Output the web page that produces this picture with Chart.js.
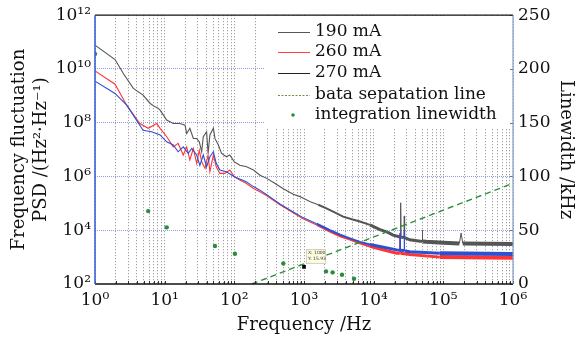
<!DOCTYPE html>
<html><head><meta charset="utf-8">
<script src="https://cdn.jsdelivr.net/npm/chart.js@4"></script>
<style>html,body{margin:0;padding:0;background:#fff}#wrap{width:586px;height:339px}</style>
</head><body><div id="wrap"><canvas id="c" width="586" height="339"></canvas></div>
<script>
// ---- data ----
const seriesLabels = ['190 mA', '260 mA', '270 mA', 'bata sepatation line', 'integration linewidth'];

const freq190 = [1, 1.94, 2.55, 3.55, 4.9, 6.2, 7.3, 8.0, 8.6, 10.7, 13.3, 16.6, 19.6, 20.7, 23, 25.8, 28.8, 31.4, 34, 35.8, 40, 42, 44.6, 50, 52.7, 59, 65.6, 77, 86, 100, 120, 150, 188, 233, 292, 380, 504, 700, 874, 1230, 1600, 2100, 2800, 3640, 5000, 6340, 8850, 12300, 16000, 19000, 24000, 24400, 24800, 27200, 27500, 27800, 33000, 49500, 50000, 50500, 57000, 100000, 170000, 180000, 190000, 1000000];
const psd190 = [7.7e10, 2.24e10, 6.8e9, 1.9e9, 1.07e9, 5.2e8, 3.9e8, 3.5e8, 2.95e8, 1.26e8, 9.3e7, 9.3e7, 8.1e7, 4.0e7, 6.2e7, 2.6e7, 2.6e7, 1.95e7, 8.3e6, 3.0e7, 4.6e7, 7.2e6, 3.5e7, 6.2e7, 2.6e7, 1.48e7, 7.2e6, 5.4e6, 6.3e6, 3.5e6, 2.6e6, 2.3e6, 1.74e6, 1.12e6, 8.5e5, 5.6e5, 3.5e5, 2.2e5, 1.78e5, 1.15e5, 8.9e4, 6.5e4, 4.5e4, 3.2e4, 2.5e4, 2.1e4, 1.58e4, 1.05e4, 8.3e3, 6.6e3, 5.6e3, 1.05e5, 5.5e3, 5.4e3, 3.4e4, 5.3e3, 4.4e3, 3.8e3, 1.0e4, 3.8e3, 3.7e3, 3.4e3, 3.2e3, 7.9e3, 3.2e3, 3.1e3];

const freq260 = [1, 1.94, 2.85, 4.4, 5.8, 7.7, 8.6, 10.7, 13.3, 15.6, 18.5, 20.7, 23, 25.8, 28.8, 31.4, 34, 38, 42, 44.6, 50, 55, 62, 73, 86, 100, 120, 150, 188, 233, 292, 452, 700, 967, 1520, 2360, 3300, 4570, 6340, 8850, 12300, 21400, 23800, 24000, 24200, 33000, 89000, 1000000];
const psd260 = [8.5e9, 2.7e9, 4.5e8, 9.3e7, 6.2e7, 9.3e7, 6.2e7, 3.0e7, 1.26e7, 1.7e7, 6.3e6, 1.26e7, 4.1e6, 1.1e7, 3.1e6, 9.5e6, 3.5e6, 2.0e6, 6.3e6, 1.5e6, 6.3e6, 2.3e6, 1.3e6, 1.3e6, 1.74e6, 9.8e5, 7.4e5, 5.5e5, 3.6e5, 2.7e5, 1.9e5, 8.9e4, 4.5e4, 2.7e4, 1.58e4, 8.9e3, 6.0e3, 4.5e3, 3.3e3, 2.5e3, 2.0e3, 1.4e3, 1.4e3, 7.0e3, 1.4e3, 1.26e3, 1.0e3, 9.5e2];

const freq270 = [1, 1.94, 2.85, 4.9, 6.5, 8.6, 10.7, 13.3, 15.6, 18.5, 21.8, 24.5, 28.8, 32, 35.8, 40, 44.6, 50, 55, 62, 77, 100, 135, 150, 188, 233, 292, 452, 700, 967, 1520, 2360, 3300, 4570, 6340, 8850, 12300, 21400, 23800, 24000, 24200, 27300, 27500, 27700, 33000, 89000, 1000000];
const psd270 = [3.5e9, 1.23e9, 4.5e8, 5.2e7, 4.6e7, 3.5e7, 1.95e7, 1.48e7, 8.3e6, 1.26e7, 7.2e6, 1.1e7, 6.3e6, 2.6e6, 6.3e6, 2.3e6, 5.4e6, 8.3e6, 3.1e6, 1.74e6, 1.5e6, 9.8e5, 7.1e5, 6.3e5, 4.2e5, 3.1e5, 2.1e5, 9.5e4, 4.8e4, 2.95e4, 1.74e4, 1.0e4, 6.8e3, 5.0e3, 3.7e3, 2.95e3, 2.5e3, 1.86e3, 1.8e3, 7.9e3, 1.8e3, 1.75e3, 1.0e4, 1.7e3, 1.58e3, 1.38e3, 1.32e3];

const freqBeta = [178, 1000000];
const psdBeta = [100, 5.6e5];

const freqLinewidth = [1, 5.8, 10.7, 52.7, 102, 505, 2070, 2575, 3510, 5220];
const linewidthKHz = [214, 67.8, 52.7, 35.3, 28.2, 19.1, 11.7, 10.8, 8.6, 4.9];

const datatipX = [1000];
const datatipY = [15.93];

const xDecades = [1, 10, 100, 1000, 10000, 100000, 1000000];
const xTickLabels = ['10⁰', '10¹', '10²', '10³', '10⁴', '10⁵', '10⁶'];
const yDecades = [1e2, 1e4, 1e6, 1e8, 1e10, 1e12];
const yTickLabels = ['10²', '10⁴', '10⁶', '10⁸', '10¹⁰', '10¹²'];
const y2Ticks = [0, 50, 100, 150, 200, 250];

// ---- helpers ----
const pts = (xs, ys) => xs.map((x, i) => ({x: x, y: ys[i]}));
const minorMult = [1, 2, 3, 4, 5, 6, 7, 8, 9];
const xGridValues = [];
xDecades.forEach((d, i) => {
  if (i === xDecades.length - 1) { xGridValues.push(d); return; }
  minorMult.forEach(m => xGridValues.push(d * m));
});

const SERIF = "'DejaVu Serif', serif";
const colors = {g190: '#555555', r260: '#ff3535', b270: '#2d4fd2', beta: '#2f8f3a', lw: '#2e8b3e'};

function segWidth(c) {
  const a = c.p0.parsed, b = c.p1.parsed;
  if (Math.abs(Math.log10(b.y) - Math.log10(a.y)) > 0.35 && a.x > 1000) return 1;
  const f = a.x;
  if (f < 1500) return 1.1;
  if (f < 8000) return 2;
  if (f < 40000) return 3;
  return 4;
}

// legend + white box
const boxLegend = {
  id: 'boxLegend',
  beforeDatasetsDraw(chart) {
    const ctx = chart.ctx;
    ctx.save();
    ctx.fillStyle = '#ffffff';
    ctx.fillRect(265, 16, 247, 112);
    ctx.restore();
  },
  afterDraw(chart) {
    const ctx = chart.ctx;
    ctx.save();
    const rows = [32, 52, 73, 95, 115];
    const styles = [
      {type: 'line', color: '#555555', dash: []},
      {type: 'line', color: '#ff4040', dash: []},
      {type: 'line', color: '#222222', dash: []},
      {type: 'line', color: '#6f8f45', dash: [2, 1.5]},
      {type: 'dot', color: colors.lw}
    ];
    ctx.font = "17px " + SERIF;
    ctx.textBaseline = 'middle';
    ctx.fillStyle = '#111';
    seriesLabels.forEach((lab, i) => {
      const y = rows[i];
      const s = styles[i];
      if (s.type === 'line') {
        ctx.strokeStyle = s.color; ctx.lineWidth = 1; ctx.setLineDash(s.dash);
        ctx.beginPath(); ctx.moveTo(278, y + 0.5); ctx.lineTo(310, y + 0.5); ctx.stroke();
        ctx.setLineDash([]);
      } else {
        ctx.fillStyle = s.color;
        ctx.beginPath(); ctx.arc(293, y, 1.8, 0, Math.PI * 2); ctx.fill();
        ctx.fillStyle = '#111';
      }
      ctx.fillText(lab, 315, y);
    });
    ctx.restore();
  }
};

// frame + small ticks + datatip
const framePlugin = {
  id: 'frame',
  afterDatasetsDraw(chart) {
    const {ctx, chartArea: a, scales} = chart;
    ctx.save();
    ctx.strokeStyle = '#333'; ctx.lineWidth = 1;
    xGridValues.forEach(v => {
      const px = Math.round(scales.x.getPixelForValue(v)) + 0.5;
      ctx.beginPath(); ctx.moveTo(px, a.bottom); ctx.lineTo(px, a.bottom - 3); ctx.stroke();
    });
    ctx.strokeStyle = '#5577aa';
    y2Ticks.forEach(v => {
      const py = Math.round(scales.y2.getPixelForValue(v)) + 0.5;
      ctx.beginPath(); ctx.moveTo(a.right, py); ctx.lineTo(a.right - 3, py); ctx.stroke();
    });
    ctx.lineWidth = 1.3;
    ctx.strokeStyle = '#111';
    ctx.beginPath(); ctx.moveTo(a.left, a.top); ctx.lineTo(a.right, a.top); ctx.stroke();
    ctx.beginPath(); ctx.moveTo(a.left, a.bottom); ctx.lineTo(a.right, a.bottom); ctx.stroke();
    ctx.lineWidth = 1.6;
    ctx.strokeStyle = '#3a62d8';
    ctx.beginPath(); ctx.moveTo(a.left, a.top); ctx.lineTo(a.left, a.bottom); ctx.stroke();
    ctx.lineWidth = 1.2;
    ctx.strokeStyle = '#7f9cc4';
    ctx.beginPath(); ctx.moveTo(a.right, a.top); ctx.lineTo(a.right, a.bottom); ctx.stroke();
    const px = scales.x.getPixelForValue(datatipX[0]);
    const py = scales.y2.getPixelForValue(datatipY[0]);
    const bx = px + 2, by = py - 18, bw = 19, bh = 14;
    ctx.fillStyle = '#fdfbe0';
    ctx.fillRect(bx, by, bw, bh);
    ctx.strokeStyle = '#c8c8b0'; ctx.lineWidth = 0.8;
    ctx.strokeRect(bx + 0.5, by + 0.5, bw, bh);
    ctx.fillStyle = '#333';
    ctx.font = "4.5px 'DejaVu Sans', sans-serif";
    ctx.textBaseline = 'middle';
    ctx.fillText('X: ' + datatipX[0], bx + 2, by + 4);
    ctx.fillText('Y: ' + datatipY[0].toFixed(2), bx + 2, by + 10);
    ctx.restore();
  }
};

const ctx = document.getElementById('c').getContext('2d');
new Chart(ctx, {
  type: 'line',
  data: {
    datasets: [
      {label: seriesLabels[4], data: pts(freqLinewidth, linewidthKHz), yAxisID: 'y2', showLine: false,
       pointRadius: 2.2, pointBackgroundColor: colors.lw, pointBorderWidth: 0, order: 0},
      {label: 'datatip', data: pts(datatipX, datatipY), yAxisID: 'y2', showLine: false,
       pointStyle: 'rect', pointRadius: 2.6, pointBackgroundColor: '#000', pointBorderColor: '#000', pointBorderWidth: 0, order: 0},
      {label: seriesLabels[3], data: pts(freqBeta, psdBeta), yAxisID: 'y', borderColor: colors.beta,
       borderWidth: 1.4, borderDash: [6, 4], pointRadius: 0, order: 1},
      {label: seriesLabels[2], data: pts(freq270, psd270), yAxisID: 'y', borderColor: colors.b270,
       borderWidth: 1.1, pointRadius: 0, order: 2, segment: {borderWidth: segWidth}},
      {label: seriesLabels[1], data: pts(freq260, psd260), yAxisID: 'y', borderColor: colors.r260,
       borderWidth: 1.1, pointRadius: 0, order: 3, segment: {borderWidth: segWidth}},
      {label: seriesLabels[0], data: pts(freq190, psd190), yAxisID: 'y', borderColor: colors.g190,
       borderWidth: 1.1, pointRadius: 0, order: 4, segment: {borderWidth: segWidth}}
    ]
  },
  options: {
    responsive: false,
    animation: false,
    devicePixelRatio: 1,
    layout: {padding: {top: 15, left: 0, right: 0, bottom: 0}},
    elements: {line: {tension: 0}},
    plugins: {legend: {display: false}, tooltip: {enabled: false}},
    scales: {
      x: {
        type: 'logarithmic', min: 1, max: 1e6,
        afterBuildTicks: s => { s.ticks = xGridValues.map(v => ({value: v})); },
        afterFit: s => { s.height = 55; },
        border: {display: false, dash: [1, 2]},
        grid: {color: 'rgba(120,120,120,0.85)', lineWidth: 1, drawTicks: false, tickLength: 0},
        ticks: {
          autoSkip: false, maxRotation: 0, minRotation: 0, padding: 6,
          color: '#111', font: {family: SERIF, size: 17},
          callback: v => { const i = xDecades.indexOf(v); return i >= 0 ? xTickLabels[i] : ''; }
        },
        title: {display: true, text: 'Frequency /Hz', color: '#111', font: {family: SERIF, size: 18},
                padding: {top: 0, bottom: 3}}
      },
      y: {
        type: 'logarithmic', position: 'left', min: 1e2, max: 1e12,
        afterBuildTicks: s => { s.ticks = yDecades.map(v => ({value: v})); },
        afterFit: s => { s.width = 95; },
        border: {display: false, dash: [1, 1]},
        grid: {color: c => (c.tick && (c.tick.value === 1e2 || c.tick.value === 1e12)) ? 'rgba(0,0,0,0)' : '#8f9de8',
               lineWidth: 1, drawTicks: false, tickLength: 0},
        ticks: {
          autoSkip: false, padding: 4, color: '#111', font: {family: SERIF, size: 17},
          callback: v => { const i = yDecades.indexOf(v); return i >= 0 ? yTickLabels[i] : ''; }
        },
        title: {display: true, text: ['Frequency fluctuation', 'PSD /(Hz²·Hz⁻¹)'], color: '#111',
                font: {family: SERIF, size: 18}, padding: {top: 9, bottom: 0}}
      },
      y2: {
        type: 'linear', position: 'right', min: 0, max: 250,
        afterBuildTicks: s => { s.ticks = y2Ticks.map(v => ({value: v})); },
        afterFit: s => { s.width = 73; },
        border: {display: false},
        grid: {display: false, drawTicks: false},
        ticks: {autoSkip: false, padding: 5, color: '#111', font: {family: SERIF, size: 17}},
        title: {display: true, text: 'Linewidth /kHz', color: '#111', font: {family: SERIF, size: 18},
                padding: {top: 10, bottom: 0}}
      }
    }
  },
  plugins: [boxLegend, framePlugin]
});
</script>
</body></html>
